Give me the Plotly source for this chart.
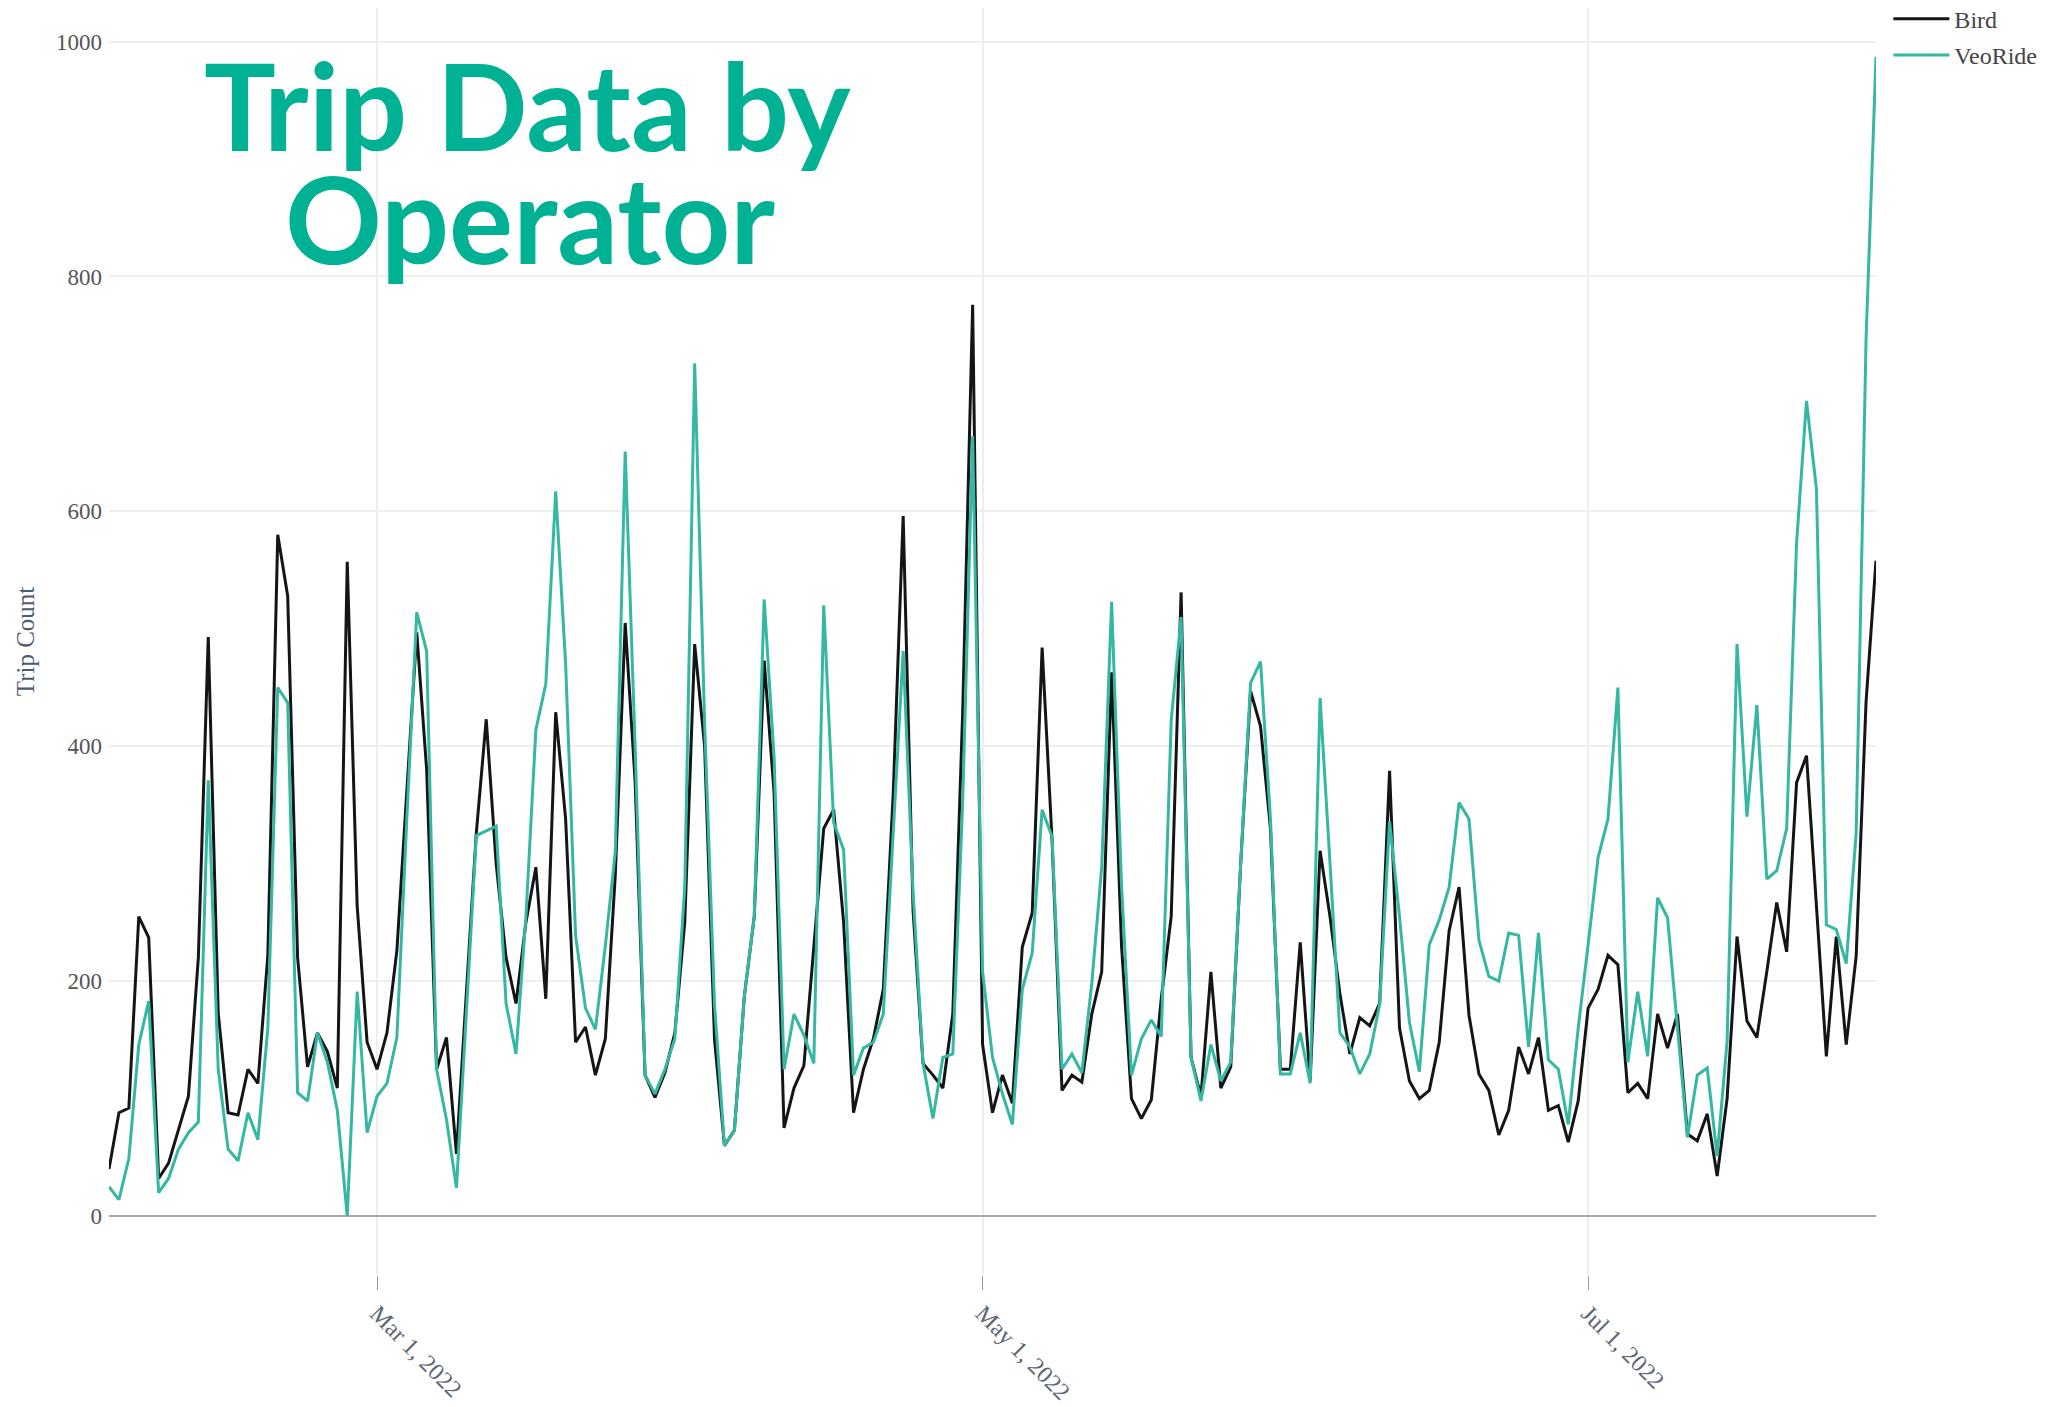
import pandas as pd
import plotly.graph_objects as go

# daily trip counts, Feb 2 2022 - Jul 30 2022
dates = pd.date_range("2022-02-02", "2022-07-30", freq="D")

bird = [40, 88, 92, 255, 237, 32, 45, 73, 102, 220,
        493, 173, 88, 86, 125, 113, 222, 580, 528, 220,
        127, 156, 140, 109, 557, 264, 148, 125, 156, 226,
        360, 497, 380, 125, 152, 53, 190, 326, 423, 300,
        220, 181, 250, 297, 185, 429, 338, 148, 161, 120,
        151, 290, 505, 370, 120, 101, 122, 156, 250, 487,
        400, 150, 60, 73, 187, 255, 473, 360, 75, 109,
        128, 230, 330, 346, 250, 88, 125, 151, 193, 360,
        596, 260, 130, 120, 109, 172, 430, 776, 146, 88,
        120, 96, 229, 258, 484, 320, 107, 120, 114, 172,
        208, 463, 230, 100, 83, 99, 185, 255, 531, 135,
        102, 208, 109, 127, 300, 447, 417, 330, 125, 125,
        233, 115, 311, 255, 189, 138, 169, 162, 181, 379,
        160, 115, 100, 107, 148, 243, 280, 171, 121, 107,
        69, 90, 144, 121, 152, 90, 94, 63, 98, 177,
        193, 222, 214, 105, 113, 100, 172, 143, 172, 70,
        64, 87, 34, 100, 238, 166, 152, 208, 267, 225,
        369, 392, 267, 136, 238, 146, 221, 438, 558]

veoride = [25, 14, 49, 146, 183, 20, 32, 57, 71, 80,
           371, 125, 57, 47, 88, 65, 160, 450, 437, 105,
           98, 156, 131, 90, 0, 191, 71, 102, 113, 152,
           338, 514, 481, 125, 82, 24, 173, 324, 328, 332,
           181, 138, 255, 414, 453, 617, 470, 239, 177, 159,
           230, 310, 651, 400, 120, 104, 125, 151, 280, 726,
           420, 180, 60, 73, 187, 255, 525, 390, 125, 172,
           154, 130, 520, 335, 312, 120, 143, 148, 172, 328,
           481, 276, 130, 83, 135, 138, 354, 664, 208, 135,
           104, 78, 193, 224, 346, 323, 125, 138, 122, 198,
           297, 523, 281, 120, 151, 167, 153, 422, 510, 135,
           98, 146, 115, 131, 300, 454, 472, 338, 121, 121,
           156, 113, 441, 300, 156, 144, 121, 138, 180, 336,
           255, 165, 123, 231, 252, 280, 352, 338, 235, 204,
           200, 241, 239, 144, 241, 133, 125, 78, 160, 231,
           305, 338, 450, 131, 191, 136, 271, 254, 162, 67,
           120, 126, 51, 149, 487, 340, 435, 287, 294, 330,
           573, 694, 619, 248, 244, 215, 326, 747, 987]

serif = "Liberation Serif"

fig = go.Figure()
fig.add_trace(go.Scatter(x=dates, y=bird, mode="lines", name="Bird", legendgroup="b",
                         line=dict(color="#151515", width=3)))
fig.add_trace(go.Scatter(x=dates, y=veoride, mode="lines", name="VeoRide", legendgroup="v",
                         line=dict(color="#34b8a4", width=3)))

# page has an 8px body margin, so the figure is a bit smaller than the window
fig.update_layout(
    width=2043, height=1399,
    margin=dict(l=101, r=175, t=0, b=132, autoexpand=False),
    plot_bgcolor="white", paper_bgcolor="white",
    legend=dict(x=1.007, y=1.009, xanchor="left", yanchor="top", itemwidth=56,
                tracegroupgap=2,
                font=dict(family=serif, size=24, color="#444444")),
)
fig.update_xaxes(type="date", tickformat="%b %-d, %Y", dtick="M2", tick0="2022-01-01",
                 tickangle=45, ticks="outside", ticklen=14, tickcolor="#999999",
                 showgrid=True, gridcolor="#eeeeee", gridwidth=2, zeroline=False, showline=False,
                 tickfont=dict(family=serif, size=24, color="#5c6675"))
fig.update_yaxes(range=[-50.2, 1028.6], dtick=200, showgrid=True, gridcolor="#eeeeee", gridwidth=2,
                 zeroline=True, zerolinecolor="#a8a8a8", zerolinewidth=2, showline=False,
                 ticklabelstandoff=6,
                 tickfont=dict(family=serif, size=23, color="#555555"),
                 title=dict(text="Trip Count", standoff=14,
                            font=dict(family=serif, size=25, color="#4d5b6e")))

# big overlay title
title_col = "#00b193"
fig.add_annotation(text="<b>Trip Data by</b>", xref="paper", yref="paper", x=0.237, y=0.9234,
                   xanchor="center", yanchor="middle", showarrow=False,
                   font=dict(family="Lato", size=120, color=title_col))
fig.add_annotation(text="<b>Operator</b>", xref="paper", yref="paper", x=0.2383, y=0.8346,
                   xanchor="center", yanchor="middle", showarrow=False,
                   font=dict(family="Lato", size=120, color=title_col))

fig.write_html("out.html")
